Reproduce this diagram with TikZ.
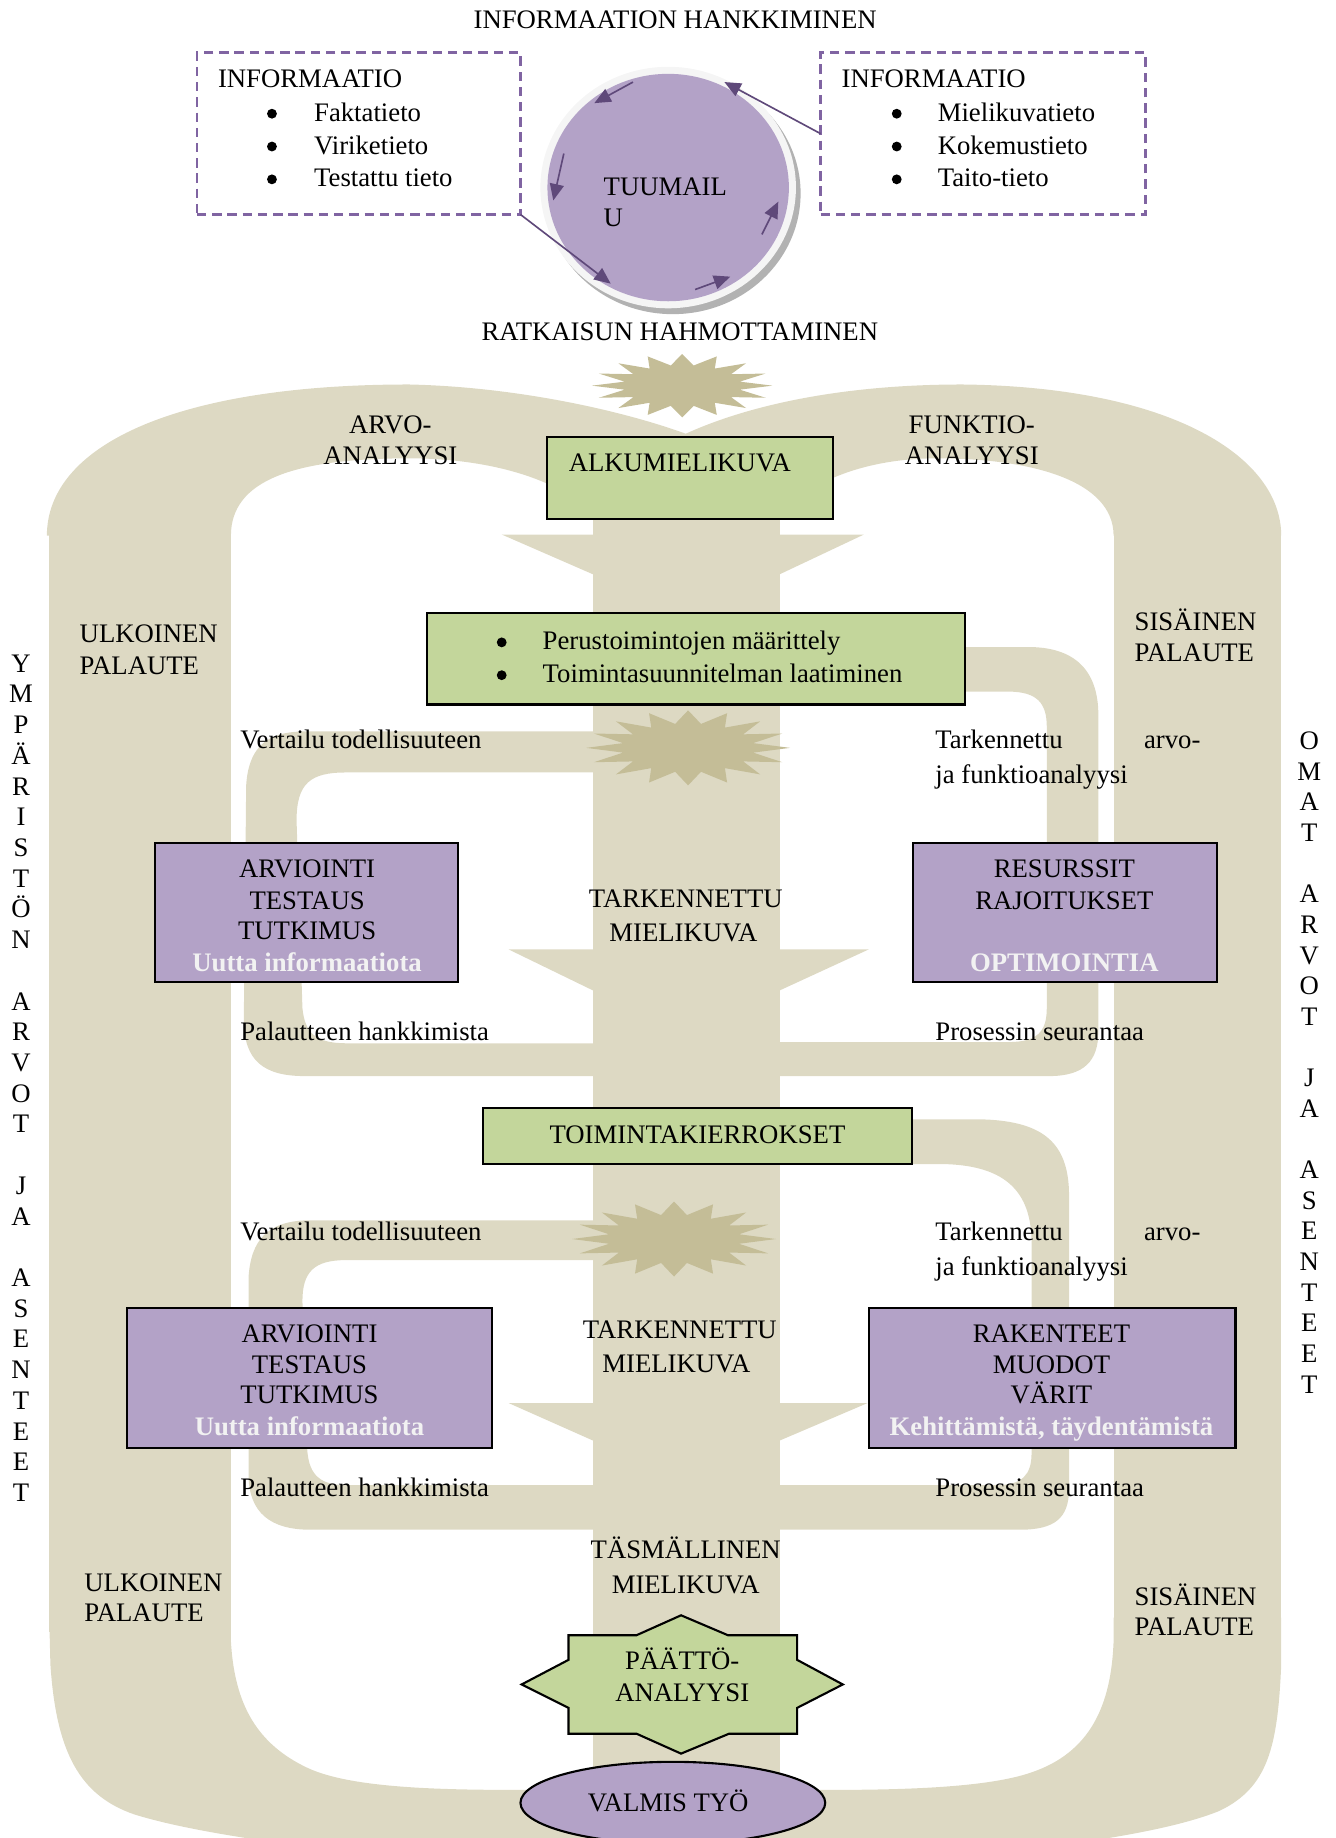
\documentclass[tikz,border=0pt]{standalone}
\usepackage{fontspec}
\setmainfont{Liberation Serif}
\usetikzlibrary{arrows.meta,shapes.geometric}
\definecolor{beige}{HTML}{DDD9C3}
\definecolor{khaki}{HTML}{C4BD97}
\definecolor{lgreen}{HTML}{C3D69B}
\definecolor{lpurple}{HTML}{B3A2C7}
\definecolor{dpurple}{HTML}{8064A2}
\definecolor{apurple}{HTML}{5F497A}
\definecolor{wtext}{HTML}{F2F2F2}
\newcommand\burst[5]{\fill[khaki] ({#1+#3},#2) \foreach \k in {1,...,31}{ -- ({#1+cos(\k*11.25)*#3*(1-(1-#5)*mod(\k,2))},{#2+sin(\k*11.25)*#4*(1-(1-#5)*mod(\k,2))}) } -- cycle;}
\newcommand\tl[4]{\node[txtl] (#1) at (#2,#3+7.5) {#4};}
\newcommand\tc[4]{\node[txt] (#1) at (#2,#3+7.5) {#4};}
\newcommand\tw[4]{\node[wtxt] (#1) at (#2,#3+7.5) {#4};}
\newcommand\bul[3]{\node[bullet] (#1) at (#2,#3+1) {};}
\begin{document}
\begin{tikzpicture}[x=0.5pt,y=-0.5pt,font=\fontsize{11.4}{13.4}\selectfont,
  txt/.style={anchor=base,inner sep=0pt,outer sep=0pt},
  txtl/.style={anchor=base west,inner sep=0pt,outer sep=0pt},
  wtxt/.style={txt,font=\fontsize{11.4}{13.4}\selectfont\bfseries,text=wtext},
  bullet/.style={circle,fill=black,inner sep=0pt,minimum size=4.2pt},
  gbox/.style={draw=black,line width=0.9pt,fill=lgreen,inner sep=0pt,outer sep=0pt,anchor=north west},
  pbox/.style={draw=black,line width=0.9pt,fill=lpurple,inner sep=0pt,outer sep=0pt,anchor=north west},
  dbox/.style={draw=dpurple,line width=1.1pt,dash pattern=on 4pt off 2.5pt,inner sep=0pt,outer sep=0pt,anchor=north west},
  carrow/.style={draw=apurple,line width=0.7pt,-{Triangle[length=7pt,width=6pt]}}
]
\useasboundingbox (0,0) rectangle (1139,1568);
\begin{scope}
\clip (0,0) rectangle (1139,1568);
% arches
\fill[beige] (40,457) .. controls (40,380) and (150,328) .. (349,328)
  .. controls (440,330) and (530,350) .. (585,370)
  .. controls (640,345) and (720,328) .. (821,328)
  .. controls (1000,330) and (1093,390) .. (1093,457)
  -- (950,457) .. controls (950,410) and (880,391) .. (799,391)
  .. controls (740,391) and (690,410) .. (665,440)
  -- (507,440) .. controls (480,410) and (420,391) .. (349,391)
  .. controls (250,391) and (197,410) .. (197,457) -- cycle;
% side bands
\fill[beige] (42,450) rectangle (197,1392);
\fill[beige] (950,450) rectangle (1093,1392);
% bottom U
\fill[beige] (42,1380) -- (43,1420) .. controls (48,1495) and (68,1532) .. (115,1548)
  .. controls (170,1565) and (260,1575) .. (330,1585) -- (820,1585)
  .. controls (900,1575) and (990,1565) .. (1040,1545)
  .. controls (1082,1525) and (1090,1490) .. (1093,1420) -- (1093,1380) -- (950,1380)
  -- (950,1400) .. controls (948,1455) and (930,1495) .. (880,1512)
  .. controls (840,1526) and (760,1527) .. (700,1527) -- (450,1527)
  .. controls (380,1527) and (300,1526) .. (262,1508)
  .. controls (220,1488) and (200,1455) .. (197,1400) -- (197,1380) -- cycle;
% central column and arrow heads
\fill[beige] (506,440) rectangle (665,1580);
\fill[beige] (428,456) -- (737,456) -- (665,490) -- (506,490) -- cycle;
\fill[beige] (434,810) -- (741,810) -- (665,845) -- (506,845) -- cycle;
\fill[beige] (434,1197) -- (740,1197) -- (665,1229) -- (506,1229) -- cycle;
% upper loop
\fill[beige] (506,624) -- (260,624) .. controls (225,624) and (212,640) .. (210,670)
  -- (208,870) .. controls (208,905) and (225,918) .. (260,918) -- (506,918) -- (506,890)
  -- (295,890) .. controls (268,890) and (260,880) .. (258,860)
  -- (253,700) .. controls (253,668) and (265,659) .. (295,659) -- (506,659) -- cycle;
\fill[beige] (820,552) -- (880,552) .. controls (920,553) and (937,575) .. (937,610)
  -- (937,880) .. controls (937,905) and (925,918) .. (895,918) -- (665,918) -- (665,889)
  -- (860,889) .. controls (885,889) and (893,880) .. (893,860)
  -- (893,620) .. controls (893,600) and (885,590) .. (860,590) -- (820,590) -- cycle;
% lower loop
\fill[beige] (506,1041) -- (265,1041) .. controls (228,1041) and (214,1058) .. (212,1090)
  -- (212,1260) .. controls (213,1290) and (230,1305) .. (265,1305) -- (506,1305) -- (506,1267)
  -- (295,1267) .. controls (270,1267) and (263,1255) .. (262,1235)
  -- (258,1110) .. controls (258,1085) and (268,1075) .. (295,1075) -- (506,1075) -- cycle;
\fill[beige] (775,955) -- (840,955) .. controls (890,957) and (912,975) .. (912,1020)
  -- (912,1270) .. controls (912,1295) and (900,1305) .. (870,1305) -- (665,1305) -- (665,1267)
  -- (850,1267) .. controls (872,1267) and (880,1258) .. (880,1240)
  -- (880,1060) .. controls (880,1010) and (850,993) .. (800,993) -- (775,993) -- cycle;
% starbursts
\burst{582}{329}{77}{27}{0.65}
\burst{587}{638}{87}{32}{0.65}
\burst{575}{1057}{87}{32}{0.65}
% boxes
\node[gbox,minimum width=122pt,minimum height=35pt] (alku) at (467,373) {};
\node[gbox,minimum width=229.5pt,minimum height=39pt] (peru) at (364,523) {};
\node[pbox,minimum width=129.5pt,minimum height=59.5pt] (arv1) at (132,719) {};
\node[pbox,minimum width=129.5pt,minimum height=59.5pt] (res) at (779,719) {};
\node[gbox,minimum width=183pt,minimum height=24pt] (toim) at (412,945) {};
\node[pbox,minimum width=156pt,minimum height=59.5pt] (arv2) at (108,1116) {};
\node[pbox,minimum width=156.5pt,minimum height=59.5pt] (rak) at (741,1116) {};
% paatto star
\draw[fill=lgreen,line width=0.9pt] (581,1378) -- (621,1395) -- (680,1395) -- (680,1416) -- (719,1437)
  -- (680,1457) -- (680,1479) -- (622,1479) -- (581,1496) -- (543,1479) -- (485,1479)
  -- (485,1457) -- (445,1437) -- (485,1416) -- (485,1395) -- (543,1395) -- cycle;
\coordinate (paatto) at (582,1437);
\node[ellipse,draw=black,line width=0.9pt,fill=lpurple,minimum width=130pt,minimum height=35pt,inner sep=0pt] (valmis) at (574,1538) {};
\end{scope}
% information boxes
\node[dbox,minimum width=138pt,minimum height=69pt] (infoL) at (168,45) {};
\node[dbox,minimum width=138.5pt,minimum height=69pt] (infoR) at (700,45) {};
% tuumailu circle
\fill[black!30] (574,165) ellipse [x radius=54.5pt, y radius=51.5pt];
\fill[black!4] (570,160) ellipse [x radius=54.5pt, y radius=51.5pt];
\node[ellipse,fill=lpurple,minimum width=103pt,minimum height=97pt,inner sep=0pt] (tuum) at (570,160) {};
\coordinate (a1s) at (540,70); \coordinate (a1e) at (507,88);
\coordinate (a2s) at (481,131); \coordinate (a2e) at (472,171);
\coordinate (a3e) at (521,242);
\coordinate (a4s) at (593,247); \coordinate (a4e) at (623,236);
\coordinate (a5s) at (650,200); \coordinate (a5e) at (664,172);
\coordinate (a6e) at (618,70);
\draw[carrow] (a1s) -- (a1e);
\draw[carrow] (a2s) -- (a2e);
\draw[carrow] (infoL.south east) -- (a3e);
\draw[carrow] (a4s) -- (a4e);
\draw[carrow] (a5s) -- (a5e);
\draw[carrow] (infoR.west) -- (a6e);
% texts
\tc{t1}{576}{17}{INFORMAATION HANKKIMINEN}
\tl{t2}{186}{67}{INFORMAATIO}
\bul{b1}{232}{96}\tl{t3}{268}{96}{Faktatieto}
\bul{b2}{232}{124}\tl{t4}{268}{124}{Viriketieto}
\bul{b3}{232}{152}\tl{t5}{268}{152}{Testattu tieto}
\tl{t6}{718}{67}{INFORMAATIO}
\bul{b4}{765}{96}\tl{t7}{800}{96}{Mielikuvatieto}
\bul{b5}{765}{124}\tl{t8}{800}{124}{Kokemustieto}
\bul{b6}{765}{152}\tl{t9}{800}{152}{Taito-tieto}
\tl{t10}{515}{159}{TUUMAIL}
\tl{t11}{515}{186}{U}
\tc{t12}{580}{283}{RATKAISUN HAHMOTTAMINEN}
\tc{t13}{333}{362}{ARVO-}
\tc{t14}{333}{389}{ANALYYSI}
\tc{t15}{829}{362}{FUNKTIO-}
\tc{t16}{829}{389}{ANALYYSI}
\tc{t17}{580}{395}{ALKUMIELIKUVA}
\tl{t18}{68}{541}{ULKOINEN}
\tl{t19}{68}{568}{PALAUTE}
\tl{t20}{968}{530}{SISÄINEN}
\tl{t21}{968}{557}{PALAUTE}
\bul{b7}{428}{547}\tl{t22}{463}{547}{Perustoimintojen määrittely}
\bul{b8}{428}{575}\tl{t23}{463}{575}{Toimintasuunnitelman laatiminen}
\tl{t24}{205}{631}{Vertailu todellisuuteen}
\tl{t25}{798}{631}{Tarkennettu}
\tl{t26}{976}{631}{arvo-}
\tl{t27}{798}{661}{ja funktioanalyysi}
\tc{t28}{262}{741}{ARVIOINTI}
\tc{t29}{262}{768}{TESTAUS}
\tc{t30}{262}{794}{TUTKIMUS}
\tw{t31}{262}{821}{Uutta informaatiota}
\tc{t32}{585}{767}{TARKENNETTU}
\tc{t33}{583}{796}{MIELIKUVA}
\tc{t34}{908}{741}{RESURSSIT}
\tc{t35}{908}{768}{RAJOITUKSET}
\tw{t36}{908}{821}{OPTIMOINTIA}
\tl{t37}{205}{880}{Palautteen hankkimista}
\tl{t38}{798}{880}{Prosessin seurantaa}
\tc{t39}{595}{968}{TOIMINTAKIERROKSET}
\tl{t40}{205}{1051}{Vertailu todellisuuteen}
\tl{t41}{798}{1051}{Tarkennettu}
\tl{t42}{976}{1051}{arvo-}
\tl{t43}{798}{1081}{ja funktioanalyysi}
\tc{t44}{264}{1138}{ARVIOINTI}
\tc{t45}{264}{1164}{TESTAUS}
\tc{t46}{264}{1190}{TUTKIMUS}
\tw{t47}{264}{1217}{Uutta informaatiota}
\tc{t48}{580}{1134}{TARKENNETTU}
\tc{t49}{577}{1163}{MIELIKUVA}
\tc{t50}{897}{1138}{RAKENTEET}
\tc{t51}{897}{1164}{MUODOT}
\tc{t52}{897}{1190}{VÄRIT}
\tw{t53}{897}{1217}{Kehittämistä, täydentämistä}
\tl{t54}{205}{1269}{Palautteen hankkimista}
\tl{t55}{798}{1269}{Prosessin seurantaa}
\tc{t56}{585}{1322}{TÄSMÄLLINEN}
\tc{t57}{585}{1352}{MIELIKUVA}
\tl{t58}{72}{1350}{ULKOINEN}
\tl{t59}{72}{1376}{PALAUTE}
\tl{t60}{968}{1362}{SISÄINEN}
\tl{t61}{968}{1388}{PALAUTE}
\tc{t62}{582}{1417}{PÄÄTTÖ-}
\tc{t63}{582}{1444}{ANALYYSI}
\tc{t64}{570}{1538}{VALMIS TYÖ}
% vertical words
\foreach \l [count=\i from 0] in {Y,M,P,Ä,R,I,S,T,Ö,N,,A,R,V,O,T,,J,A,,A,S,E,N,T,E,E,T}
  \node[txt] (vl\i) at (18,566+\i*26.2+7.5) {\l};
\foreach \l [count=\i from 0] in {O,M,A,T,,A,R,V,O,T,,J,A,,A,S,E,N,T,E,E,T}
  \node[txt] (vr\i) at (1117,632+\i*26.14+7.5) {\l};
\end{tikzpicture}
\end{document}
